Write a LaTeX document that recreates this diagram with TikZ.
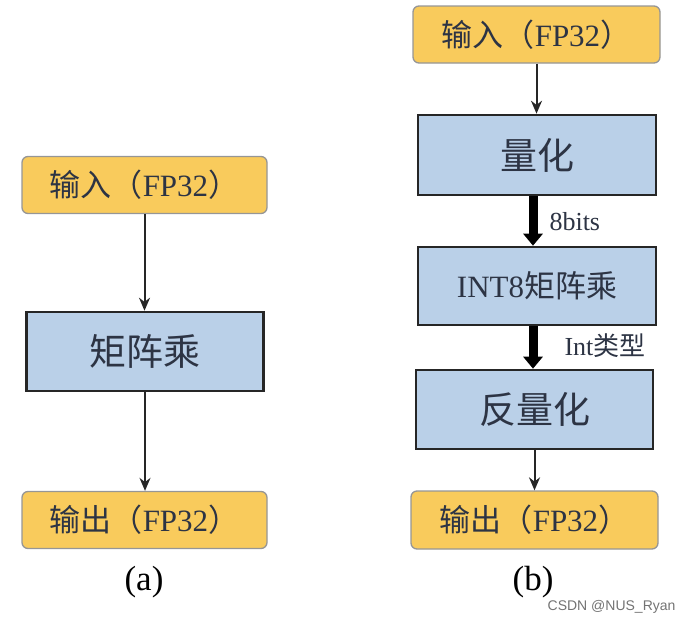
\documentclass[tikz,border=0pt]{standalone}
\usepackage{fontspec}
\setmainfont{Liberation Serif}
\newfontfamily\zhfont{Noto Sans CJK SC}
\newfontfamily\wmfont{Liberation Sans}
\usetikzlibrary{arrows.meta}
\definecolor{ioyellow}{RGB}{249,203,92}
\definecolor{ioborder}{RGB}{150,150,150}
\definecolor{opblue}{RGB}{186,208,232}
\definecolor{txtgray}{RGB}{45,52,68}
\newcommand{\zh}[1]{{\zhfont #1}}
\begin{document}
\begin{tikzpicture}[>={Stealth[length=13pt,width=11pt]},x=1pt,y=-1pt,
	iobox/.style={draw=ioborder,line width=1.3pt,fill=ioyellow,rounded corners=6pt,
		minimum width=245pt,minimum height=57pt,inner sep=0pt,text=txtgray,font=\fontsize{31}{31}\selectfont},
	opbox/.style={draw=black!85,line width=2.6pt,fill=opblue,minimum width=237pt,
		minimum height=79pt,inner sep=0pt,text=txtgray,font=\fontsize{37}{37}\selectfont},
	thin arr/.style={->,line width=2pt,black!85},
	thick arr/.style={-{Triangle[length=12pt,width=19pt]},line width=9pt,black},
	lbl/.style={text=txtgray,font=\fontsize{26}{26}\selectfont}]
	\useasboundingbox (0,0) rectangle (682,624);
	% (a)
	\node[iobox] (inA) at (144.5,185) {\zh{输入（}FP32\zh{）}};
	\node[opbox] (mulA) at (145,351.5) {\zh{矩阵乘}};
	\node[iobox] (outA) at (144.5,520) {\zh{输出（}FP32\zh{）}};
	\node[font=\fontsize{35}{35}\selectfont] (labA) at (144,582) {(a)};
	\draw[thin arr] (inA.south) -- (inA.south |- mulA.north);
	\draw[thin arr] (mulA.south) -- (mulA.south |- outA.north);
	% (b)
	\node[iobox,minimum width=247pt] (inB) at (536.5,34.5) {\zh{输入（}FP32\zh{）}};
	\node[opbox,minimum width=238pt,minimum height=80pt] (quant) at (537,155) {\zh{量化}};
	\node[opbox,minimum width=238pt,minimum height=78pt,font=\fontsize{31}{31}\selectfont] (int8) at (537,286) {INT8\zh{矩阵乘}};
	\node[opbox] (deq) at (534.5,409.5) {\zh{反量化}};
	\node[iobox,minimum width=247pt,minimum height=58pt] (outB) at (534.5,520) {\zh{输出（}FP32\zh{）}};
	\node[font=\fontsize{35}{35}\selectfont] (labB) at (533,582) {(b)};
	\draw[thin arr] (inB.south) -- (inB.south |- quant.north);
	\draw[thick arr] (quant.south) ++(-4,0) coordinate (t1) -- (t1 |- int8.north);
	\node[lbl,anchor=west] (bits) at (546,222) {8bits};
	\draw[thick arr] (int8.south) ++(-4,0) coordinate (t2) -- (t2 |- deq.north);
	\node[lbl,anchor=west] (ityp) at (561,346) {Int\zh{类型}};
	\draw[thin arr] (deq.south) -- (deq.south |- outB.north);
	\node[anchor=east,text=black!55,font=\wmfont\fontsize{14}{14}\selectfont] (wm) at (679,607) {CSDN @NUS\_Ryan};
\end{tikzpicture}
\end{document}
